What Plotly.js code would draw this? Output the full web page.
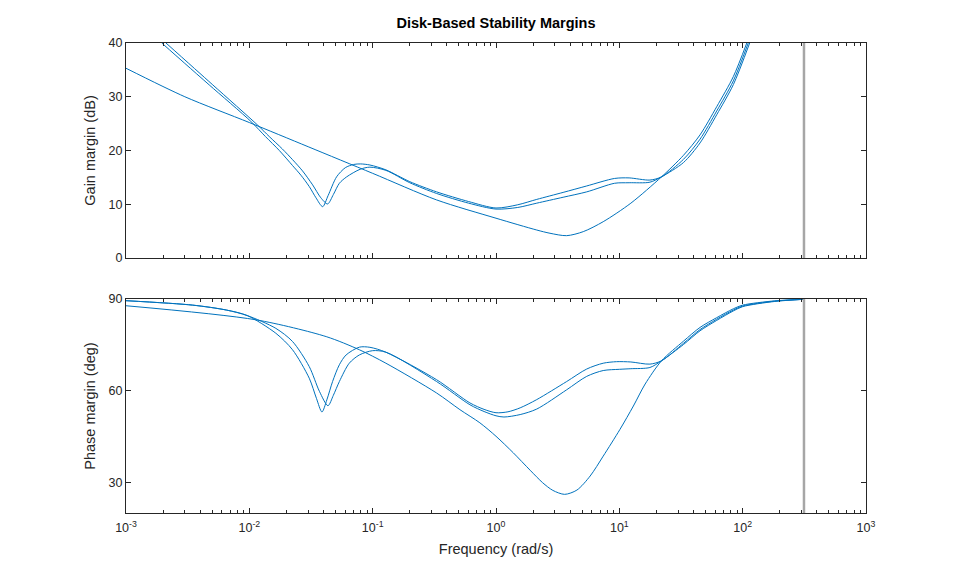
<!DOCTYPE html>
<html>
<head>
<meta charset="utf-8">
<script src="https://cdn.plot.ly/plotly-3.0.1.min.js"></script>
<style>html,body{margin:0;padding:0;background:#fff;}#chart{width:959px;height:577px;}</style>
</head>
<body>
<div id="chart"></div>
<script>
// ---- Data ----
// Gain margin (dB), three loops
const freqGainA = [0.00195, 0.003, 0.00473, 0.0103, 0.0135, 0.0175, 0.0224, 0.0262, 0.0306, 0.0347, 0.0393, 0.0435, 0.051, 0.06, 0.07, 0.08, 0.095, 0.128, 0.2, 0.33, 0.6, 1.0, 1.5, 2.14, 3.5, 5.44, 9.16, 12, 17.7, 22, 33.1, 45.1, 61.6, 84, 111];
const gainA     = [40, 36.2, 32.2, 25.4, 22.6, 20.0, 17.2, 15.4, 13.3, 11.2, 9.55, 11.6, 15.1, 16.8, 17.4, 17.5, 17.3, 16.4, 14.2, 12.3, 10.5, 9.3, 9.9, 10.9, 12.2, 13.4, 14.8, 14.9, 14.5, 15.1, 18.35, 22.1, 27.35, 32.95, 40];

const freqGainB = [0.00211, 0.005, 0.0117, 0.0145, 0.0185, 0.0224, 0.027, 0.0326, 0.038, 0.0431, 0.048, 0.0537, 0.0616, 0.079, 0.095, 0.128, 0.2, 0.33, 0.6, 1.0, 1.5, 2.14, 3.5, 5.44, 9.16, 12, 17.7, 22, 33.1, 45.1, 61.6, 84, 114];
const gainB     = [40, 32.3, 24.7, 22.6, 20.3, 18.3, 16.2, 13.6, 11.2, 10.05, 11.8, 13.9, 15.1, 16.5, 16.9, 16.3, 14.0, 12.0, 10.2, 9.1, 9.4, 10.2, 11.3, 12.3, 13.9, 14.0, 14.1, 15.1, 17.75, 21.4, 26.65, 32.25, 40];

const freqGainC = [0.001, 0.003, 0.01, 0.03, 0.1, 0.33, 1.0, 2.14, 2.74, 3.74, 5.1, 7.4, 12.4, 22, 33.1, 45.1, 61.6, 84, 108];
const gainC     = [35.3, 30.0, 25.2, 20.7, 15.75, 10.8, 7.4, 5.2, 4.6, 4.15, 4.9, 6.75, 10.2, 15.1, 19.1, 22.9, 28.15, 33.75, 40];

// Phase margin (deg), three loops
const freqPhaseA = [0.001, 0.00347, 0.0065, 0.0096, 0.0164, 0.0224, 0.0306, 0.035, 0.0388, 0.0425, 0.0473, 0.0537, 0.0609, 0.078, 0.095, 0.128, 0.33, 0.615, 0.8, 1.0, 1.25, 1.57, 2.14, 3.74, 5.44, 7.4, 9.5, 12.4, 17.7, 22, 33.1, 45.1, 61.6, 84, 100, 182, 314];
const phaseA     = [89.45, 88.0, 86.4, 84.6, 78.8, 73.4, 64.1, 57.5, 53.05, 57.0, 63.0, 68.5, 71.7, 74.25, 74.2, 72.6, 63.6, 56.0, 53.9, 52.8, 53.1, 54.4, 57.1, 63.0, 67.1, 69.0, 69.5, 69.4, 68.7, 69.8, 75.5, 80.0, 83.4, 86.4, 87.7, 89.3, 89.9];

const freqPhaseB = [0.001, 0.00347, 0.0065, 0.0096, 0.0164, 0.0224, 0.0306, 0.037, 0.0434, 0.048, 0.0537, 0.0646, 0.078, 0.1, 0.128, 0.33, 0.615, 0.8, 1.0, 1.16, 1.57, 2.14, 3.74, 5.44, 7.4, 10, 12.4, 17.7, 22, 33.1, 45.1, 61.6, 84, 100, 182, 314];
const phaseB     = [89.45, 88.0, 86.4, 84.6, 80.4, 76.1, 67.9, 59.8, 55.1, 58.5, 63.0, 69.0, 71.7, 73.1, 72.6, 63.0, 55.4, 53.2, 51.8, 51.4, 52.2, 54.0, 60.3, 64.7, 66.6, 67.0, 67.2, 67.6, 69.8, 75.1, 79.6, 83.0, 86.1, 87.5, 89.2, 89.9];

const freqPhaseC = [0.001, 0.0113, 0.042, 0.078, 0.128, 0.33, 0.51, 0.74, 1.0, 1.38, 1.89, 2.39, 2.89, 3.6, 4.53, 5.8, 7.4, 10.1, 13.0, 16.2, 22, 33.1, 45.1, 61.6, 84, 100, 182, 314];
const phaseC     = [87.8, 83.2, 77.7, 73.4, 69.0, 59.25, 53.8, 49.5, 45.1, 39.7, 34.0, 29.9, 27.4, 26.1, 27.5, 32.1, 38.6, 47.3, 55.0, 62.2, 69.8, 76.2, 80.7, 83.9, 86.8, 88.0, 89.4, 89.9];

// Nyquist frequency marker (rad/s)
const nyquistFreq = [314.16];

// Tick labels
const decadeVals = [0.001, 0.01, 0.1, 1, 10, 100, 1000];
const decadeText = ['10<sup>-3</sup>', '10<sup>-2</sup>', '10<sup>-1</sup>', '10<sup>0</sup>', '10<sup>1</sup>', '10<sup>2</sup>', '10<sup>3</sup>'];
const gainTicks = [0, 10, 20, 30, 40];
const phaseTicks = [30, 60, 90];

// ---- Build chart ----
const blue = '#0072BD';
const axisColor = '#262626';
const minorVals = [];
for (let e = -3; e < 3; e++) for (let d = 2; d <= 9; d++) minorVals.push(d * Math.pow(10, e));

function tr(x, y, xa, ya) {
  return {x: x, y: y, xaxis: xa, yaxis: ya, type: 'scatter', mode: 'lines',
          line: {color: blue, width: 1, shape: 'spline', smoothing: 0.8},
          hoverinfo: 'x+y', showlegend: false};
}
const data = [
  tr(freqGainA, gainA, 'x', 'y'),
  tr(freqGainB, gainB, 'x', 'y'),
  tr(freqGainC, gainC, 'x', 'y'),
  tr(freqPhaseA, phaseA, 'x2', 'y2'),
  tr(freqPhaseB, phaseB, 'x2', 'y2'),
  tr(freqPhaseC, phaseC, 'x2', 'y2')
];

const fam = 'Liberation Sans, Arial, Helvetica, sans-serif';
const font = {family: fam, size: 12.5, color: axisColor};
const labelFont = {family: fam, size: 14.5, color: axisColor};
function xax(showLabels) {
  return {
    type: 'log', range: [-3, 3], tickmode: 'array', tickvals: decadeVals, ticktext: decadeText,
    showticklabels: showLabels, ticks: 'inside', ticklen: 5, tickcolor: axisColor,
    showline: true, linecolor: axisColor, linewidth: 1, mirror: 'ticks',
    showgrid: false, zeroline: false, tickfont: font, ticklabelstandoff: 3,
    minor: {tickmode: 'array', tickvals: minorVals, ticks: 'inside', ticklen: 3, tickcolor: axisColor, showgrid: false}
  };
}
const xaxis = xax(false); xaxis.anchor = 'y';
const xaxis2 = xax(true); xaxis2.anchor = 'y2';
xaxis2.title = {text: 'Frequency (rad/s)', font: labelFont, standoff: 9};

function yax(range, ticks, title, domain, anchor) {
  return {
    range: range, domain: domain, anchor: anchor, tickmode: 'array', tickvals: ticks,
    ticks: 'inside', ticklen: 5, tickcolor: axisColor,
    showline: true, linecolor: axisColor, linewidth: 1, mirror: 'ticks',
    showgrid: false, zeroline: false, tickfont: font,
    title: {text: title, font: labelFont, standoff: 9}
  };
}

const layout = {
  width: 959, height: 577,
  margin: {l: 126, r: 93, t: 43, b: 64},
  paper_bgcolor: '#ffffff', plot_bgcolor: '#ffffff',
  title: {text: '<b>Disk-Based Stability Margins</b>', font: {family: fam, size: 14.5, color: '#000000'},
          x: 0.5, xref: 'paper', y: 1 - 23 / 577, yref: 'container', yanchor: 'middle'},
  xaxis: xaxis, xaxis2: xaxis2,
  yaxis: yax([0, 40], gainTicks, 'Gain margin (dB)', [0.5426, 1], 'x'),
  yaxis2: yax([20, 90], phaseTicks, 'Phase margin (deg)', [0, 0.4553], 'x2'),
  shapes: [
    {type: 'line', layer: 'above', xref: 'x', yref: 'y domain', x0: nyquistFreq[0], x1: nyquistFreq[0], y0: 0, y1: 1,
     line: {color: '#A6A6A6', width: 2.5}},
    {type: 'line', layer: 'above', xref: 'x2', yref: 'y2 domain', x0: nyquistFreq[0], x1: nyquistFreq[0], y0: 0, y1: 1,
     line: {color: '#A6A6A6', width: 2.5}}
  ]
};

Plotly.newPlot('chart', data, layout, {displayModeBar: false, staticPlot: true});
</script>
</body>
</html>
